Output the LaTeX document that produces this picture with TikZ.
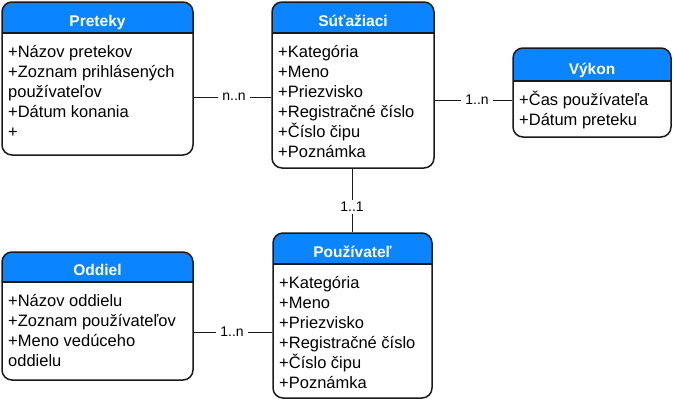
\documentclass[tikz,border=0pt]{standalone}
\usepackage{fontspec}
\setmainfont{Liberation Sans}
\usetikzlibrary{fit}
\definecolor{hdrblue}{HTML}{0A84FF}
\definecolor{edge}{HTML}{1A1A1A}
\tikzset{
  entbox/.style={draw=edge, line width=1.5pt, rounded corners=10pt, inner sep=0pt},
  boxline/.style={draw=edge, line width=1.5pt},
  attr/.style={anchor=base west, inner sep=0pt, font=\fontsize{16.5}{20}\selectfont},
  ttl/.style={anchor=base, inner sep=0pt, text=white, font=\bfseries\fontsize{15.5}{18}\selectfont},
  mult/.style={fill=white, inner xsep=4pt, inner ysep=2pt, font=\fontsize{14}{16}\selectfont},
  conn/.style={draw=edge, line width=0.8pt}
}
\newcommand\entity[8]{%
  \coordinate (#1-nw) at (#2,#3);
  \coordinate (#1-se) at (#4,#5);
  \begin{scope}
    \clip[rounded corners=10pt] (#2,#3) rectangle (#4,#5);
    \fill[hdrblue] (#2,#3) rectangle (#4,#6);
  \end{scope}
  \draw[boxline] (#2,#6) -- (#4,#6);
  \node[entbox, fit=(#1-nw)(#1-se)] (#1) {};
  \node[ttl] (#1-title) at ({(#2+#4)/2},#6-7) {#7};
  \foreach \attrtxt [count=\attrno] in {#8} {
    \node[attr] (#1-a\attrno) at (#2+6,#6+4+20*\attrno) {\attrtxt};
  }
}
\begin{document}
\begin{tikzpicture}[x=1pt,y=-1pt]
\useasboundingbox (0,0) rectangle (674,400);
\entity{pret}{2}{2}{193}{155}{33}{Preteky}{+Názov pretekov,+Zoznam prihlásených,používateľov,+Dátum konania,+}
\entity{sut}{272}{2}{434}{168}{33}{Súťažiaci}{+Kategória,+Meno,+Priezvisko,+Registračné číslo,+Číslo čipu,+Poznámka}
\entity{vyk}{513}{48}{671}{137}{81}{Výkon}{+Čas používateľa,+Dátum preteku}
\entity{odd}{2}{252}{193}{380}{282}{Oddiel}{+Názov oddielu,+Zoznam používateľov,+Meno vedúceho,oddielu}
\entity{pou}{273}{233}{432}{398}{264}{Používateľ}{+Kategória,+Meno,+Priezvisko,+Registračné číslo,+Číslo čipu,+Poznámka}

\node[mult] (m1) at (234,97) {n..n};
\draw[conn] (pret.east |- m1) -- (m1) -- (sut.west |- m1);
\node[mult] (m2) at (477,100) {1..n};
\draw[conn] (sut.east |- m2) -- (m2) -- (vyk.west |- m2);
\node[mult] (m3) at (352,207) {1..1};
\draw[conn] (sut.south -| m3) -- (m3) -- (pou.north -| m3);
\node[mult] (m4) at (232,332) {1..n};
\draw[conn] (odd.east |- m4) -- (m4) -- (pou.west |- m4);
\end{tikzpicture}
\end{document}
